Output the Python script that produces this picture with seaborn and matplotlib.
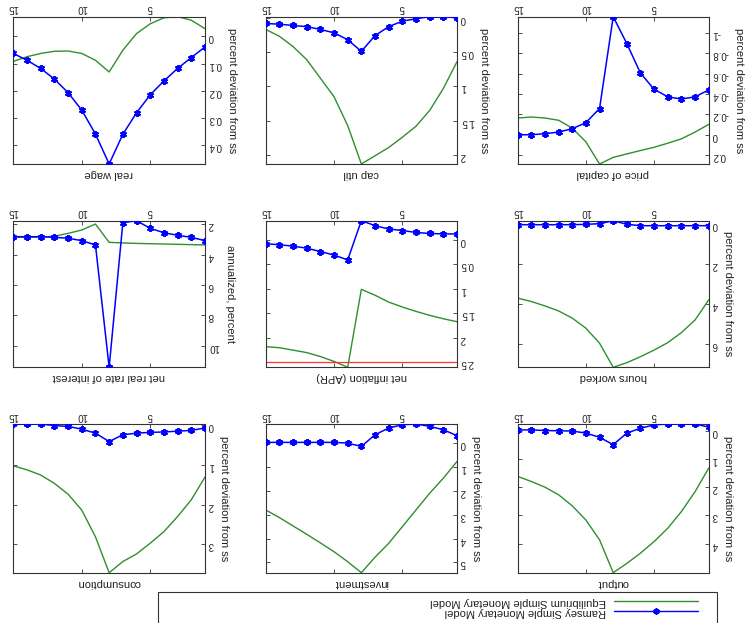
import matplotlib
matplotlib.use("Agg")
import matplotlib.pyplot as plt
import matplotlib.transforms as mtrans
from matplotlib.lines import Line2D
from matplotlib.patches import Rectangle
from matplotlib.ticker import FuncFormatter
import numpy as np
import pandas as pd
import seaborn as sns

# ---------------- data (periods 1..15) ----------------
periods = list(range(1, 16))

output_ramsey = [-0.12, -0.23, -0.23, -0.23, -0.20, -0.08, 0.09, 0.50, 0.24, 0.09, 0.02, 0.01, 0.00, -0.02, -0.02]
output_eq = [1.33, 2.16, 2.86, 3.45, 3.92, 4.33, 4.69, 5.02, 3.86, 3.16, 2.66, 2.27, 2.00, 1.80, 1.62]

investment_ramsey = [-0.31, -0.56, -0.70, -0.80, -0.77, -0.63, -0.35, 0.14, 0.00, -0.03, -0.03, -0.03, -0.03, -0.03, -0.03]
investment_eq = [0.77, 1.47, 2.10, 2.80, 3.50, 4.20, 4.78, 5.43, 4.97, 4.55, 4.18, 3.82, 3.47, 3.12, 2.80]

consumption_ramsey = [0.08, 0.14, 0.16, 0.18, 0.19, 0.21, 0.25, 0.42, 0.21, 0.11, 0.04, 0.02, -0.02, -0.02, -0.02]
consumption_eq = [1.31, 1.88, 2.30, 2.68, 2.97, 3.24, 3.43, 3.71, 2.81, 2.14, 1.74, 1.47, 1.26, 1.13, 1.03]

hours_ramsey = [0.10, 0.10, 0.10, 0.10, 0.10, 0.10, 0.03, -0.15, 0.00, 0.03, 0.05, 0.05, 0.05, 0.05, 0.05]
hours_eq = [3.80, 4.80, 5.43, 5.93, 6.30, 6.63, 6.93, 7.16, 5.96, 5.21, 4.71, 4.35, 4.10, 3.88, 3.71]

inflation_ramsey = [-0.12, -0.12, -0.13, -0.15, -0.19, -0.22, -0.29, -0.39, 0.41, 0.31, 0.24, 0.17, 0.13, 0.10, 0.08]
inflation_eq = [1.67, 1.61, 1.54, 1.46, 1.37, 1.27, 1.13, 1.01, 2.60, 2.48, 2.38, 2.30, 2.25, 2.20, 2.18]
inflation_bound = [2.5] * 15

realrate_ramsey = [3.09, 2.87, 2.74, 2.57, 2.28, 1.78, 1.91, 11.4, 3.37, 3.09, 2.93, 2.87, 2.83, 2.83, 2.83]
realrate_eq = [3.37, 3.35, 3.33, 3.31, 3.29, 3.27, 3.24, 3.20, 2.00, 2.39, 2.61, 2.80, 2.85, 2.87, 2.87]

pk_ramsey = [-0.439, -0.372, -0.35, -0.372, -0.446, -0.604, -0.894, -1.158, -0.257, -0.119, -0.059, -0.026, -0.01, 0.0, 0.0]
pk_eq = [-0.102, -0.026, 0.04, 0.083, 0.123, 0.155, 0.188, 0.222, 0.287, 0.07, -0.065, -0.142, -0.164, -0.174, -0.164]

caputil_ramsey = [0.0, -0.015, -0.015, 0.015, 0.05, 0.13, 0.26, 0.49, 0.32, 0.22, 0.17, 0.13, 0.113, 0.094, 0.084]
caputil_eq = [0.64, 1.03, 1.35, 1.58, 1.74, 1.89, 2.01, 2.13, 1.57, 1.15, 0.88, 0.61, 0.42, 0.27, 0.17]

realwage_ramsey = [0.039, 0.078, 0.118, 0.164, 0.215, 0.281, 0.360, 0.469, 0.359, 0.271, 0.207, 0.157, 0.118, 0.088, 0.063]
realwage_eq = [-0.028, -0.059, -0.072, -0.068, -0.046, -0.01, 0.051, 0.131, 0.088, 0.063, 0.054, 0.055, 0.063, 0.075, 0.092]

titles = ["output", "investment", "consumption",
          "hours worked", "net inflation (APR)", "net real rate of interest",
          "price of capital", "cap util", "real wage"]
ylabels = ["percent deviation from ss", "percent deviation from ss", "percent deviation from ss",
           "percent deviation from ss", "", "annualized, percent",
           "percent deviation from ss", "percent deviation from ss", "percent deviation from ss"]
yticks = [[0, 1, 2, 3, 4], [0, 1, 2, 3, 4, 5], [0, 1, 2, 3],
          [0, 2, 4, 6], [0, 0.5, 1, 1.5, 2, 2.5], [2, 4, 6, 8, 10],
          [-1, -0.8, -0.6, -0.4, -0.2, 0, 0.2], [0, 0.5, 1, 1.5, 2], [0, 0.1, 0.2, 0.3, 0.4]]
xticks = [5, 10, 15]
legend_labels = ["Ramsey Simple Monetary Model", "Equilibrium Simple Monetary Model"]

ramsey = [output_ramsey, investment_ramsey, consumption_ramsey,
          hours_ramsey, inflation_ramsey, realrate_ramsey,
          pk_ramsey, caputil_ramsey, realwage_ramsey]
equil = [output_eq, investment_eq, consumption_eq,
         hours_eq, inflation_eq, realrate_eq,
         pk_eq, caputil_eq, realwage_eq]

# ---------------- style ----------------
sns.set_style("white")
plt.rcParams["font.family"] = ["Liberation Sans", "DejaVu Sans"]
TXT = "#222222"
EDGE = "#333333"
BLUE = "#0000ff"
GREEN = "#2e8f2e"

W, H = 752, 623
fig = plt.figure(figsize=(W / 100, H / 100), dpi=100)

# the whole figure is shown rotated by 180 degrees
cols = [(13.3, 205.0), (265.7, 457.0), (517.7, 708.7)]
rows = [(16.7, 164.0), (220.7, 367.3), (424.0, 572.7)]

fmt = FuncFormatter(lambda v, p: ("%g" % v))

for i in range(9):
    orow, ocol = divmod(i, 3)          # position in the un-rotated layout
    rrow, rcol = 2 - orow, 2 - ocol    # position after 180 degree rotation
    x0, x1 = cols[rcol]
    y0, y1 = rows[rrow]
    ax = fig.add_axes([x0 / W, 1 - y1 / H, (x1 - x0) / W, (y1 - y0) / H])

    df = pd.DataFrame({"period": periods, "ramsey": ramsey[i], "equil": equil[i]})
    sns.lineplot(data=df, x="period", y="ramsey", ax=ax, color=BLUE, lw=1.1,
                 marker=(6, 2, 0), markersize=5, markeredgewidth=1.4,
                 markeredgecolor=BLUE, zorder=3)
    sns.lineplot(data=df, x="period", y="equil", ax=ax, color=GREEN, lw=1.0, zorder=2)
    if titles[i] == "net inflation (APR)":
        sns.lineplot(x=periods, y=inflation_bound, ax=ax, color="#ff3030", lw=0.9, zorder=2)

    allv = list(ramsey[i]) + list(equil[i])
    if titles[i] == "net inflation (APR)":
        allv += inflation_bound
    ax.set_xlim(max(periods), min(periods))
    ax.set_ylim(max(allv), min(allv))
    ax.set_xticks(xticks)
    ax.set_yticks(yticks[i])
    ax.yaxis.set_major_formatter(fmt)
    ax.xaxis.set_major_formatter(fmt)

    ax.tick_params(axis="both", direction="in", length=3, width=0.6, color=EDGE,
                   top=True, bottom=True, left=True, right=True,
                   labeltop=True, labelbottom=False, labelright=True, labelleft=False,
                   labelsize=7, labelcolor=TXT, pad=2.5, labelrotation=180)
    for s in ax.spines.values():
        s.set_visible(True)
        s.set_color(EDGE)
        s.set_linewidth(0.8)

    ax.set_xlabel("")
    ax.yaxis.set_label_position("right")
    ax.set_ylabel(ylabels[i], rotation=270, va="bottom", fontsize=8, color=TXT, labelpad=4)

    tr = mtrans.offset_copy(ax.transAxes, fig=fig, y=-3.5, units="points")
    ax.text(0.5, 0.0, titles[i], transform=tr, rotation=180, ha="center", va="top",
            fontsize=8, color=TXT)

# legend frame (extends past the lower figure edge)
frame = Rectangle((158 / W, -0.1), (716.7 - 158) / W, (1 - 592 / H) + 0.1,
                  transform=fig.transFigure, fill=True, facecolor="white",
                  edgecolor=EDGE, lw=0.8, zorder=1)
fig.add_artist(frame)

handles = [Line2D([], [], color=GREEN, lw=1.0),
           Line2D([], [], color=BLUE, lw=1.0, marker=(6, 2, 0), markersize=4.5,
                  markeredgewidth=1.3)]
leg = fig.legend(handles=handles, labels=[legend_labels[1], legend_labels[0]],
                 loc="upper right",
                 bbox_to_anchor=((716.7 - 15) / W, 1 - 593 / H),
                 markerfirst=False,
                 fontsize=8, handlelength=7.5, handletextpad=0.8,
                 labelspacing=0.0, borderaxespad=0, borderpad=0.35,
                 frameon=False)
leg.set_zorder(2)
for t in leg.get_texts():
    t.set_rotation(180)
    t.set_color(TXT)

fig.savefig("out.png", dpi=100)
